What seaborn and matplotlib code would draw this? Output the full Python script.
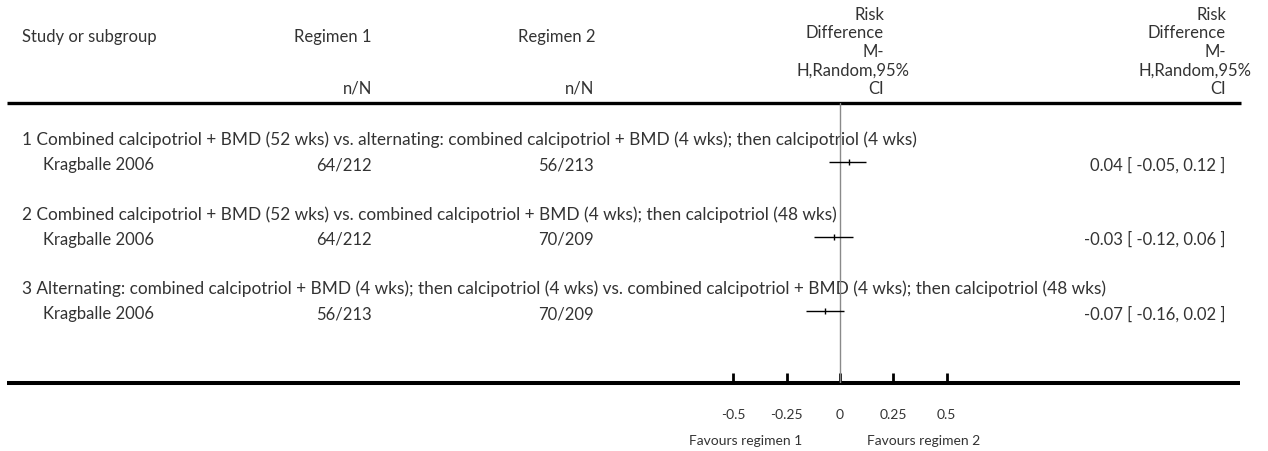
import numpy as np
import pandas as pd
import seaborn as sns
import matplotlib.pyplot as plt
import matplotlib.transforms as mtransforms

sns.set_theme(style="white")
plt.rcParams['font.family'] = ['Lato', 'DejaVu Sans']

# data
subgroups = [
    "1 Combined calcipotriol + BMD (52 wks) vs. alternating: combined calcipotriol + BMD (4 wks); then calcipotriol (4 wks)",
    "2 Combined calcipotriol + BMD (52 wks) vs. combined calcipotriol + BMD (4 wks); then calcipotriol (48 wks)",
    "3 Alternating: combined calcipotriol + BMD (4 wks); then calcipotriol (4 wks) vs. combined calcipotriol + BMD (4 wks); then calcipotriol (48 wks)",
]
studies = ["Kragballe 2006", "Kragballe 2006", "Kragballe 2006"]
regimen1 = ["64/212", "64/212", "56/213"]
regimen2 = ["56/213", "70/209", "70/209"]
rd = [0.04, -0.03, -0.07]
ci_lo = [-0.05, -0.12, -0.16]
ci_hi = [0.12, 0.06, 0.02]
ticks = [-0.5, -0.25, 0, 0.25, 0.5]
tick_labels = ["-0.5", "-0.25", "0", "0.25", "0.5"]

df = pd.DataFrame({"row": np.arange(len(rd)), "rd": rd, "lo": ci_lo, "hi": ci_hi})

W, H = 1268, 452
fig = plt.figure(figsize=(W / 100, H / 100), dpi=100)
txt = "#333333"
fs = 12
fs_small = 10

# background axes in pixel units for the table layout
bg = fig.add_axes([0, 0, 1, 1])
bg.set_xlim(0, W)
bg.set_ylim(H, 0)
bg.axis("off")

# forest plot axes: 0 at x=840px, 213.5 px per unit, rows 74.5 px apart
x0, unit = 840, 213.5
top, bot = 104, 384
row0, step = 163, 74.5
ax = fig.add_axes([(x0 - unit) / W, (H - bot) / H, 2 * unit / W, (bot - top) / H])
ax.patch.set_alpha(0)

ax.axvline(0, color="#8a8a8a", lw=1, zorder=1)
ax.hlines(df["row"], df["lo"], df["hi"], color="black", lw=1, zorder=2)
sns.scatterplot(data=df, x="rd", y="row", marker="|", s=14, color="black",
                linewidth=1, ax=ax, legend=False, zorder=3)

ax.set_xlim(-1, 1)
ax.set_ylim((bot - row0) / step, (top - row0) / step)
ax.set_xticks(ticks)
ax.set_xticklabels(tick_labels, fontsize=fs_small, color=txt)
ax.set_yticks([])
ax.set_xlabel("")
ax.set_ylabel("")
ax.tick_params(axis="x", direction="in", length=7, width=2, color="black",
               pad=18, bottom=True)
for s in ax.spines.values():
    s.set_visible(False)

# header rules
bg.plot([7, 1241], [104, 104], color="black", lw=2.4, solid_capstyle="butt")
bg.plot([7, 1240], [384, 384], color="black", lw=2.9, solid_capstyle="butt")

# column headers
hy = [15, 33, 52, 71, 89]
bg.text(22, 37, "Study or subgroup", fontsize=fs, color=txt, va="center", ha="left")
bg.text(372, 37, "Regimen 1", fontsize=fs, color=txt, va="center", ha="right")
bg.text(595, 37, "Regimen 2", fontsize=fs, color=txt, va="center", ha="right")
bg.text(372, hy[4], "n/N", fontsize=fs, color=txt, va="center", ha="right")
bg.text(594, hy[4], "n/N", fontsize=fs, color=txt, va="center", ha="right")
for xr in [884, 1226]:
    lines = ["Risk", "Difference", "M-", "H,Random,95%", "CI"]
    for i, s in enumerate(lines):
        xx = xr + 26 if s.startswith("H,") else xr
        bg.text(xx, hy[i], s, fontsize=fs, color=txt, va="center", ha="right")

# rows: x in pixels, y in row units
tr = mtransforms.blended_transform_factory(bg.transData, ax.transData)
for i in range(len(rd)):
    bg.text(22, i - 0.31, subgroups[i], transform=tr, fontsize=12.4, color=txt,
            va="center", ha="left")
    bg.text(43, i + 0.03, studies[i], transform=tr, fontsize=fs, color=txt,
            va="center", ha="left")
    bg.text(372, i + 0.03, regimen1[i], transform=tr, fontsize=fs, color=txt,
            va="center", ha="right")
    bg.text(594, i + 0.03, regimen2[i], transform=tr, fontsize=fs, color=txt,
            va="center", ha="right")
    ci = f"{rd[i]:.2f} [ {ci_lo[i]:.2f}, {ci_hi[i]:.2f} ]"
    bg.text(1225, i + 0.03, ci, transform=tr, fontsize=fs, color=txt,
            va="center", ha="right")

bg.text(802, 441, "Favours regimen 1", fontsize=fs_small, color=txt, va="center", ha="right")
bg.text(867, 441, "Favours regimen 2", fontsize=fs_small, color=txt, va="center", ha="left")

fig.savefig("out.png", dpi=100)
